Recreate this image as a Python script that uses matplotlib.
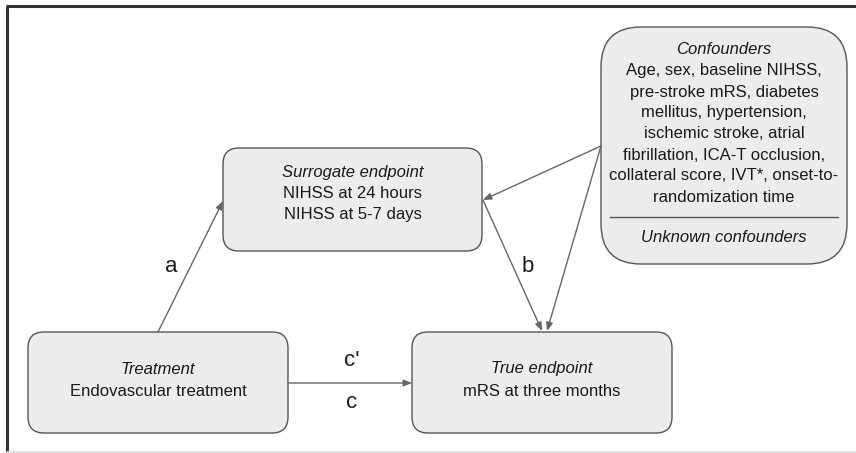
import matplotlib.pyplot as plt
from matplotlib.patches import FancyBboxPatch

plt.rcParams['font.family'] = ['Liberation Sans', 'DejaVu Sans']

# node texts
node_names = ["surrogate", "confounders", "treatment", "true"]
node_titles = ["Surrogate endpoint", "Confounders", "Treatment", "True endpoint"]
node_bodies = [
    ["NIHSS at 24 hours", "NIHSS at 5-7 days"],
    ["Age, sex, baseline NIHSS,", "pre-stroke mRS, diabetes",
     "mellitus, hypertension,", "ischemic stroke, atrial",
     "fibrillation, ICA-T occlusion,", "collateral score, IVT*, onset-to-",
     "randomization time"],
    ["Endovascular treatment"],
    ["mRS at three months"],
]
unknown_label = "Unknown confounders"

# edges
edge_from = ["treatment", "treatment", "surrogate", "confounders", "confounders"]
edge_to = ["surrogate", "true", "true", "surrogate", "true"]

# layout (pixels, y down): x0, y0, x1, y1, corner radius, first text line y, line spacing
layout = {
    "surrogate": (223, 148, 482, 251, 16, 173, 21),
    "confounders": (601, 27, 847, 264, 40, 50, 21),
    "treatment": (28, 332, 288, 433, 16, 369, 23),
    "true": (412, 332, 672, 433, 16, 369, 23),
}
arrow_pts = {
    ("treatment", "surrogate"): ((158, 332), (223, 201)),
    ("treatment", "true"): ((288, 383), (412, 383)),
    ("surrogate", "true"): ((483, 200), (542, 331)),
    ("confounders", "surrogate"): ((601, 146), (483, 200)),
    ("confounders", "true"): ((601, 146), (547, 331)),
}

fig = plt.figure(figsize=(8.56, 4.53), dpi=100)
ax = fig.add_axes([0, 0, 1, 1])
ax.set_xlim(0, 856)
ax.set_ylim(453, 0)
ax.axis("off")

# outer frame
ax.plot([7, 7], [6, 452], color="#333333", lw=2.2, solid_capstyle="butt")
ax.plot([6, 856], [6, 6], color="#333333", lw=2.2, solid_capstyle="butt")
ax.plot([7, 856], [451.5, 451.5], color="#dddddd", lw=1.2)

box_fc = "#ececec"
box_ec = "#555555"
fs = 12

for name, title, body in zip(node_names, node_titles, node_bodies):
    x0, y0, x1, y1, r, ystart, line_h = layout[name]
    ax.add_patch(FancyBboxPatch((x0, y0), x1 - x0, y1 - y0,
                                boxstyle=f"round,pad=0,rounding_size={r}",
                                fc=box_fc, ec=box_ec, lw=1.0))
    cx = (x0 + x1) / 2
    lines = [title] + body
    for i, ln in enumerate(lines):
        ax.text(cx, ystart + i * line_h, ln, ha="center", va="center",
                fontsize=fs, style="italic" if i == 0 else "normal", color="#1a1a1a")

# confounders separator + unknown
cx0, cy0, cx1, cy1 = layout["confounders"][:4]
ax.plot([cx0 + 9, cx1 - 9], [217, 217], color="#555555", lw=1.0)
ax.text((cx0 + cx1) / 2, 238, unknown_label, ha="center", va="center",
        fontsize=fs, style="italic", color="#1a1a1a")

for a, b in zip(edge_from, edge_to):
    p0, p1 = arrow_pts[(a, b)]
    ax.annotate("", xy=p1, xytext=p0,
                arrowprops=dict(arrowstyle="-|>,head_length=0.5,head_width=0.2",
                                color="#666666", lw=1.0, shrinkA=0, shrinkB=0))

# path labels
path_labels = ["a", "b", "c'", "c"]
label_pos = [(171, 267), (528, 266), (352, 361), (352, 402)]
for t, (x, y) in zip(path_labels, label_pos):
    ax.text(x, y, t, ha="center", va="center", fontsize=16, color="#1a1a1a")

fig.savefig("out.png", dpi=100)
